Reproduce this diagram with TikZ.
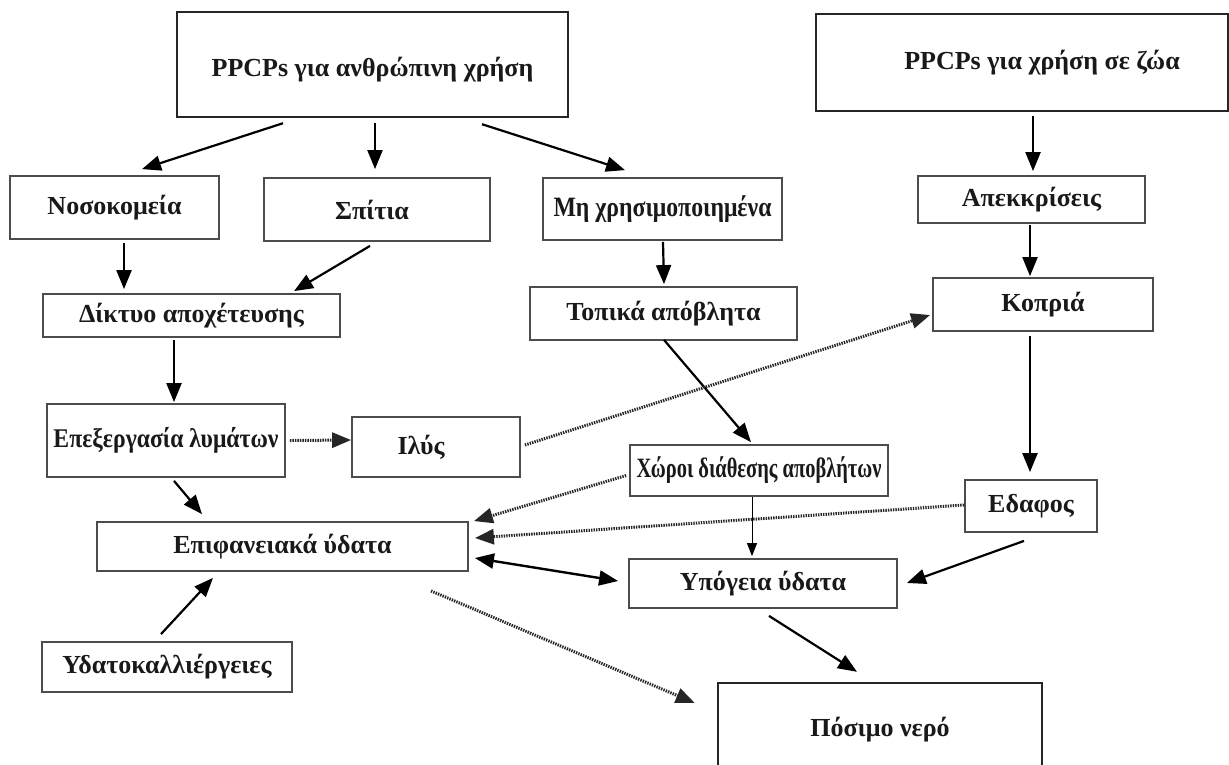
\documentclass[tikz,border=0pt]{standalone}
\usepackage{fontspec}
\setmainfont{Liberation Serif}
\usepackage{graphicx}
\usetikzlibrary{arrows.meta,calc}
% squeeze a label horizontally to a given width, keeping its height
\newcommand{\squeeze}[2]{\resizebox{#1}{\height}{#2}}

\begin{document}
\begin{tikzpicture}[x=1pt,y=-1pt,
  box/.style={draw=black!70, line width=1.8pt, fill=white, inner sep=0pt,
    font=\fontsize{26}{30}\selectfont\bfseries, text=black!90},
  bigbox/.style={box, draw=black!85, line width=2.4pt},
  tip/.tip={Triangle[length=19pt,width=15pt]},
  arr/.style={line width=2.2pt, -tip},
  thinarr/.style={line width=1pt, -{Triangle[length=13pt,width=10pt]}},
  dotarr/.style={draw=black!85, line width=3pt, dash pattern=on 1.4pt off 1.1pt, -tip},
  twoway/.style={line width=2.4pt, tip-tip},
]
\useasboundingbox (0,0) rectangle (1229,764);
\fill[white] (0,0) rectangle (1229,764);

% sources
\node[bigbox, minimum width=391pt, minimum height=105pt] (hum) at (372.5,64.5) {\raisebox{-6pt}[18pt][6pt]{PPCPs για ανθρώπινη χρήση}};
\node[bigbox, minimum width=412pt, minimum height=97pt] (ani) at (1022,62.5) {\hspace*{40pt}PPCPs για χρήση σε ζώα};

% first level
\node[box, minimum width=209pt, minimum height=63pt] (hosp) at (114.5,207.5) {Νοσοκομεία};
\node[box, minimum width=226pt, minimum height=63pt] (home) at (377,209.5) {Σπίτια\hspace*{10pt}};
\node[box, minimum width=239pt, minimum height=62pt] (unused) at (662.5,209) {\squeeze{218pt}{\fontsize{28}{30}\selectfont Μη χρησιμοποιημένα}};
\node[box, minimum width=227pt, minimum height=47pt] (excr) at (1031.5,199.5) {Απεκκρίσεις};

% second level
\node[box, minimum width=297pt, minimum height=43pt] (sewer) at (191.5,315.5) {Δίκτυο αποχέτευσης};
\node[box, minimum width=267pt, minimum height=53pt] (local) at (663.5,313.5) {Τοπικά απόβλητα};
\node[box, minimum width=220pt, minimum height=53pt] (manure) at (1043,304.5) {Κοπριά};

% treatment and disposal
\node[box, minimum width=238pt, minimum height=73pt] (wwtp) at (166,440.5) {\squeeze{225pt}{\fontsize{27}{30}\selectfont Επεξεργασία λυμάτων}};
\node[box, minimum width=168pt, minimum height=60pt] (sludge) at (436,447) {Ιλύς\hspace*{30pt}};
\node[box, minimum width=258pt, minimum height=51pt] (landfill) at (759,470.5) {\squeeze{245pt}{\fontsize{28}{30}\selectfont Χώροι διάθεσης αποβλήτων}};
\node[box, minimum width=132pt, minimum height=52pt] (soil) at (1031,506) {Εδαφος};

% waters
\node[box, minimum width=371pt, minimum height=49pt] (surf) at (282.5,546.5) {Επιφανειακά ύδατα};
\node[box, minimum width=268pt, minimum height=49pt] (ground) at (763,583.5) {Υπόγεια ύδατα};
\node[box, minimum width=250pt, minimum height=50pt] (aqua) at (167,667) {Υδατοκαλλιέργειες};
\node[bigbox, minimum width=324pt, minimum height=94pt] (drink) at (880,730) {Πόσιμο νερό};

% solid flows
\draw[arr] ($(hum.south)+(-89.5,5)$) -- ($(hosp.north)+(27.5,-6)$);
\draw[arr] ($(hum.south)+(2.5,5)$) -- ($(home.north)+(-2,-8)$);
\draw[arr] ($(hum.south)+(109.5,6)$) -- ($(unused.north)+(-37.5,-7)$);
\draw[arr] ($(ani.south)+(11,4)$) -- ($(excr.north)+(1.5,-4)$);
\draw[arr] ($(hosp.south)+(9.5,3)$) -- ($(sewer.north)+(-67.5,-4)$);
\draw[arr] ($(home.south)+(-7,4)$) -- ($(sewer.north)+(102.5,-2)$);
\draw[arr] ($(unused.south)+(0.5,1)$) -- ($(local.north)+(0.5,-2)$);
\draw[arr] ($(excr.south)+(-1.5,1)$) -- ($(manure.north)+(-13,-1)$);
\draw[arr] ($(sewer.south)+(-17.5,2)$) -- ($(wwtp.north)+(8,-1)$);
\draw[arr] ($(local.south)+(0.5,-1)$) -- ($(landfill.north)+(-8,-2)$);
\draw[arr] ($(manure.south)+(-13,4)$) -- ($(soil.north)+(-1,-7)$);
\draw[arr] ($(wwtp.south)+(8,3)$) -- ($(surf.north)+(-80.5,-7)$);
\draw[arr] ($(soil.south)+(-7,8)$) -- ($(ground.east)+(9,-0.5)$);
\draw[arr] ($(aqua.north)+(-6,-7)$) -- ($(surf.south)+(-69.5,6)$);
\draw[arr] ($(ground.south)+(6,7)$) -- ($(drink.north)+(-23,-10)$);
\draw[thinarr] ($(landfill.south)+(-7,0)$) -- ($(ground.north)+(-11,-2)$);
\draw[twoway] ($(surf.east)+(6,11.5)$) -- ($(ground.west)+(-10,-2.5)$);

% dotted flows
\draw[dotarr] ($(wwtp.east)+(4,0)$) -- ($(sludge.west)+(0,-7)$);
\draw[dotarr] ($(sludge.east)+(4,-2)$) -- ($(manure.west)+(-2,10.5)$);
\draw[dotarr] ($(landfill.west)+(-3,5)$) -- ($(surf.north east)+(5,0)$);
\draw[dotarr] ($(soil.west)+(0,-1)$) -- ($(surf.east)+(6,-8.5)$);
\draw[dotarr] ($(surf.south)+(148.5,19)$) -- ($(drink.west)+(-22,-27)$);
\end{tikzpicture}
\end{document}
